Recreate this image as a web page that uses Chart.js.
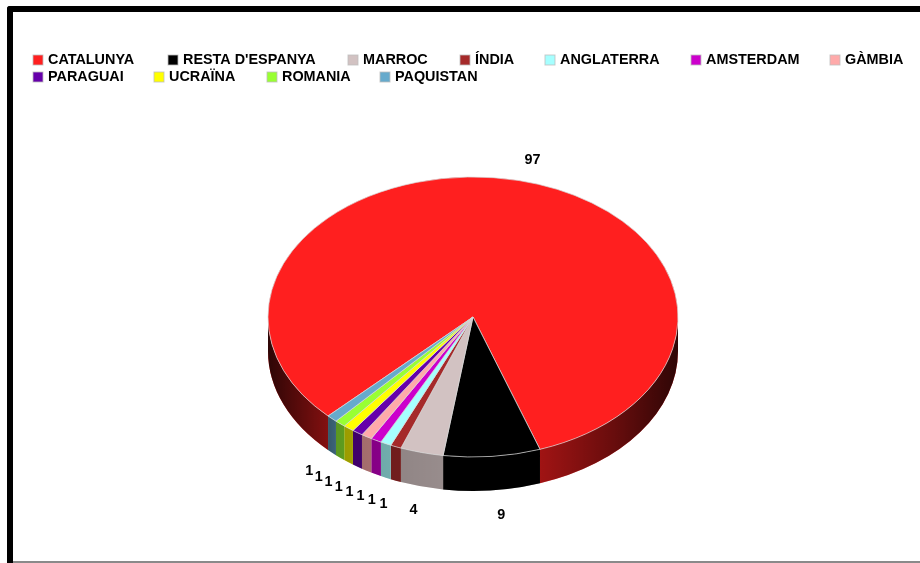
<!DOCTYPE html>
<html>
<head>
<meta charset="utf-8">
<title>Procedència</title>
<script src="https://cdn.jsdelivr.net/npm/chart.js@4/dist/chart.umd.min.js"></script>
<style>
  html, body { margin: 0; padding: 0; background: #fff; overflow: hidden; }
  #stage { position: relative; width: 920px; height: 563px; overflow: hidden; }
  #frame {
    position: absolute; left: 7px; top: 6px; width: 1000px; height: 600px;
    border-left: 6px solid #000; border-top: 6px solid #000;
    border-top-left-radius: 3px;
  }
  #floor { position: absolute; left: 13px; right: 0; top: 561px; height: 2px; background: #8a8a8a; }
  canvas { position: absolute; left: 0; top: 0; }
</style>
</head>
<body>
<div id="stage">
  <div id="frame"></div>
  <div id="floor"></div>
  <canvas id="pie" width="920" height="563"></canvas>
</div>
<script>
const categories = ['CATALUNYA', "RESTA D'ESPANYA", 'MARROC', 'ÍNDIA', 'ANGLATERRA', 'AMSTERDAM', 'GÀMBIA',
                    'PARAGUAI', 'UCRAÏNA', 'ROMANIA', 'PAQUISTAN'];
const persons = [97, 9, 4, 1, 1, 1, 1, 1, 1, 1, 1];
const sliceColors = ['#FF1F1F', '#000000', '#D2C2C2', '#A52A2A', '#A6FFFF', '#CC00CC', '#FFAAAA',
                     '#6600AA', '#FFFF00', '#99FF33', '#66AACC'];

// Tilted disc: the flat pie is squashed vertically and given a rim of fixed height.
const disc = { cx: 473, cy: 317, radius: 205, squash: 0.683, depth: 34 };
const labelStyle = { radius: 238, dropBelowRim: 36, liftAboveRim: -1, rightNudge: 6 };
const legendStyle = {
  rows: [[33, 168, 348, 460, 545, 691, 830], [33, 154, 267, 380]],
  firstRow: 60, rowStep: 17, box: 10, boxGap: 5
};
const textFont = 'bold 14.4px "Liberation Sans", Arial, sans-serif';

const tiltedDisc = {
  id: 'tiltedDisc',
  beforeDatasetsDraw(chart) {
    const ctx = chart.ctx;
    const rx = disc.radius, ry = disc.radius * disc.squash;
    const shade = ctx.createLinearGradient(disc.cx - rx, 0, disc.cx + rx, 0);
    shade.addColorStop(0, 'rgba(0,0,0,0.82)');
    shade.addColorStop(0.14, 'rgba(0,0,0,0.5)');
    shade.addColorStop(0.17, 'rgba(0,0,0,0.4)');
    shade.addColorStop(0.3, 'rgba(0,0,0,0.32)');
    shade.addColorStop(0.5, 'rgba(0,0,0,0.25)');
    shade.addColorStop(0.66, 'rgba(0,0,0,0.37)');
    shade.addColorStop(0.85, 'rgba(0,0,0,0.6)');
    shade.addColorStop(1, 'rgba(0,0,0,0.82)');

    const rim = (a, b) => {
      ctx.beginPath();
      ctx.ellipse(disc.cx, disc.cy, rx, ry, 0, a, b);
      ctx.lineTo(disc.cx + rx * Math.cos(b), disc.cy + ry * Math.sin(b) + disc.depth);
      ctx.ellipse(disc.cx, disc.cy + disc.depth, rx, ry, 0, b, a, true);
      ctx.closePath();
    };

    chart.getDatasetMeta(0).data.forEach((arc, i) => {
      // only the part of each slice on the near half of the disc shows a rim
      for (const turn of [-2 * Math.PI, 0]) {
        const a = Math.max(arc.startAngle, turn);
        const b = Math.min(arc.endAngle, turn + Math.PI);
        if (b <= a) continue;
        rim(a, b);
        ctx.fillStyle = sliceColors[i];
        ctx.fill();
        ctx.fillStyle = shade;
        ctx.fill();
      }
    });

    const first = chart.getDatasetMeta(0).data[0];
    ctx.save();
    ctx.translate(disc.cx, disc.cy);
    ctx.scale(1, disc.squash);
    ctx.translate(-first.x, -first.y);
  },
  afterDatasetsDraw(chart) {
    const ctx = chart.ctx, l = labelStyle;
    ctx.restore();

    // value labels sit on a wider ring; the near half is pushed below the rim
    ctx.save();
    ctx.font = textFont;
    ctx.fillStyle = '#000';
    ctx.textAlign = 'center';
    ctx.textBaseline = 'middle';
    chart.getDatasetMeta(0).data.forEach((arc, i) => {
      const mid = (arc.startAngle + arc.endAngle) / 2;
      const sinA = Math.sin(mid), cosA = Math.cos(mid);
      const x = disc.cx + l.radius * cosA + (cosA > 0 ? l.rightNudge : 0);
      const y = disc.cy + l.radius * disc.squash * sinA + (sinA > 0 ? l.dropBelowRim : -l.liftAboveRim);
      ctx.fillText(String(persons[i]), x, y);
    });
    ctx.restore();
  },
  afterDraw(chart) {
    const ctx = chart.ctx, s = legendStyle;
    ctx.save();
    ctx.font = textFont;
    ctx.textBaseline = 'middle';
    let i = 0;
    s.rows.forEach((columns, row) => {
      const y = s.firstRow + row * s.rowStep;
      columns.forEach(x => {
        ctx.fillStyle = sliceColors[i];
        ctx.fillRect(x, y - s.box / 2, s.box, s.box);
        ctx.strokeStyle = 'rgba(190,190,190,0.8)';
        ctx.lineWidth = 1;
        ctx.strokeRect(x, y - s.box / 2, s.box, s.box);
        ctx.fillStyle = '#000';
        ctx.fillText(categories[i], x + s.box + s.boxGap, y + 0.5);
        i++;
      });
    });
    ctx.restore();
  }
};

new Chart(document.getElementById('pie'), {
  type: 'pie',
  data: {
    labels: categories,
    datasets: [{
      data: persons,
      backgroundColor: sliceColors,
      borderColor: 'rgba(215,215,215,0.85)',
      borderWidth: 1,
      radius: disc.radius,
      clip: false
    }]
  },
  options: {
    responsive: false,
    animation: false,
    rotation: -135,
    plugins: { legend: { display: false }, tooltip: { enabled: false } }
  },
  plugins: [tiltedDisc]
});
</script>
</body>
</html>
